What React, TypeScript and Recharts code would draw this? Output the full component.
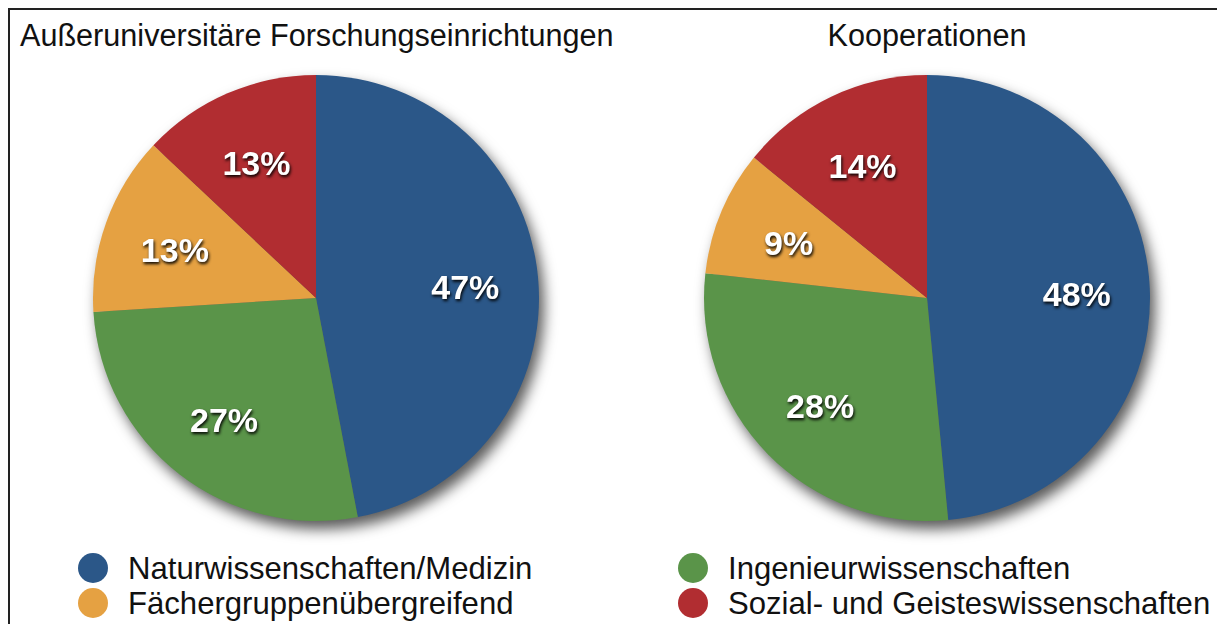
import React from 'react';
import { PieChart, Pie, Cell } from 'recharts';

const categories = [
  'Naturwissenschaften/Medizin',
  'Ingenieurwissenschaften',
  'Fächergruppenübergreifend',
  'Sozial- und Geisteswissenschaften',
];
const colors = ['#2B5788', '#5A9449', '#E5A142', '#B12D31'];
const leftValues = [47, 27, 13, 13];
const rightValues = [48, 28, 9, 14];
const leftTitle = 'Außeruniversitäre Forschungseinrichtungen';
const rightTitle = 'Kooperationen';

const leftData = categories.map((name, i) => ({ name, value: leftValues[i] }));
const rightData = categories.map((name, i) => ({ name, value: rightValues[i] }));

const FONT = '"Liberation Sans", Arial, Helvetica, sans-serif';
const W = 1217;
const H = 624;
const R = 223;
const CY = 298;
const LCX = 316;
const RCX = 927;
const LABEL_R = 150;
const MARGIN = { top: 0, right: 0, bottom: 0, left: 0 };

const renderLabel = (props: any) => {
  const { cx, cy, midAngle, value } = props;
  const rad = Math.PI / 180;
  const x = cx + LABEL_R * Math.cos(-midAngle * rad);
  const y = cy + LABEL_R * Math.sin(-midAngle * rad) + 3;
  return (
    <text
      x={x}
      y={y}
      fill="#fff"
      textAnchor="middle"
      dominantBaseline="central"
      fontFamily={FONT}
      fontWeight="bold"
      fontSize={34}
    >
      {`${value}%`}
    </text>
  );
};

const pies = (withLabels: boolean) => [
  <Pie
    key="l"
    data={leftData}
    dataKey="value"
    cx={LCX}
    cy={CY}
    outerRadius={R}
    startAngle={90}
    endAngle={-270}
    stroke="none"
    isAnimationActive={false}
    label={withLabels ? renderLabel : false}
    labelLine={false}
  >
    {leftData.map((d, i) => (
      <Cell key={d.name} fill={withLabels ? 'transparent' : colors[i]} />
    ))}
  </Pie>,
  <Pie
    key="r"
    data={rightData}
    dataKey="value"
    cx={RCX}
    cy={CY}
    outerRadius={R}
    startAngle={90}
    endAngle={-270}
    stroke="none"
    isAnimationActive={false}
    label={withLabels ? renderLabel : false}
    labelLine={false}
  >
    {rightData.map((d, i) => (
      <Cell key={d.name} fill={withLabels ? 'transparent' : colors[i]} />
    ))}
  </Pie>,
];

const legendItems = [
  { idx: 0, x: 93, y: 568 },
  { idx: 2, x: 93, y: 603 },
  { idx: 1, x: 693, y: 568 },
  { idx: 3, x: 693, y: 603 },
];

export default function App() {
  return (
    <div
      style={{
        position: 'fixed',
        left: 0,
        top: 0,
        width: W,
        height: H,
        overflow: 'hidden',
        background: '#fff',
      }}
    >
      <div
        style={{
          position: 'absolute',
          left: 8,
          top: 8,
          width: 1230,
          height: 640,
          borderTop: '2px solid #222',
          borderLeft: '2px solid #222',
        }}
      />
      <div
        style={{
          position: 'absolute',
          left: 0,
          top: 0,
          filter: 'drop-shadow(5px 8px 7px rgba(0,0,0,0.65))',
        }}
      >
        <PieChart width={W} height={H} margin={MARGIN}>
          {pies(false)}
        </PieChart>
      </div>
      <div
        style={{
          position: 'absolute',
          left: 0,
          top: 0,
          filter: 'drop-shadow(1px 2px 1.5px rgba(0,0,0,0.95))',
        }}
      >
        <PieChart width={W} height={H} margin={MARGIN}>
          {pies(true)}
        </PieChart>
      </div>
      <svg
        width={W}
        height={H}
        style={{ position: 'absolute', left: 0, top: 0 }}
      >
        <text x={20} y={46} fontFamily={FONT} fontSize={30.6} fill="#111">
          {leftTitle}
        </text>
        <text
          x={RCX}
          y={46}
          fontFamily={FONT}
          fontSize={30.6}
          fill="#111"
          textAnchor="middle"
        >
          {rightTitle}
        </text>
        {legendItems.map((it) => (
          <g key={it.idx}>
            <circle cx={it.x} cy={it.y} r={15} fill={colors[it.idx]} />
            <text
              x={it.x + 35}
              y={it.y + 11}
              fontFamily={FONT}
              fontSize={31.1}
              fill="#111"
            >
              {categories[it.idx]}
            </text>
          </g>
        ))}
      </svg>
    </div>
  );
}
